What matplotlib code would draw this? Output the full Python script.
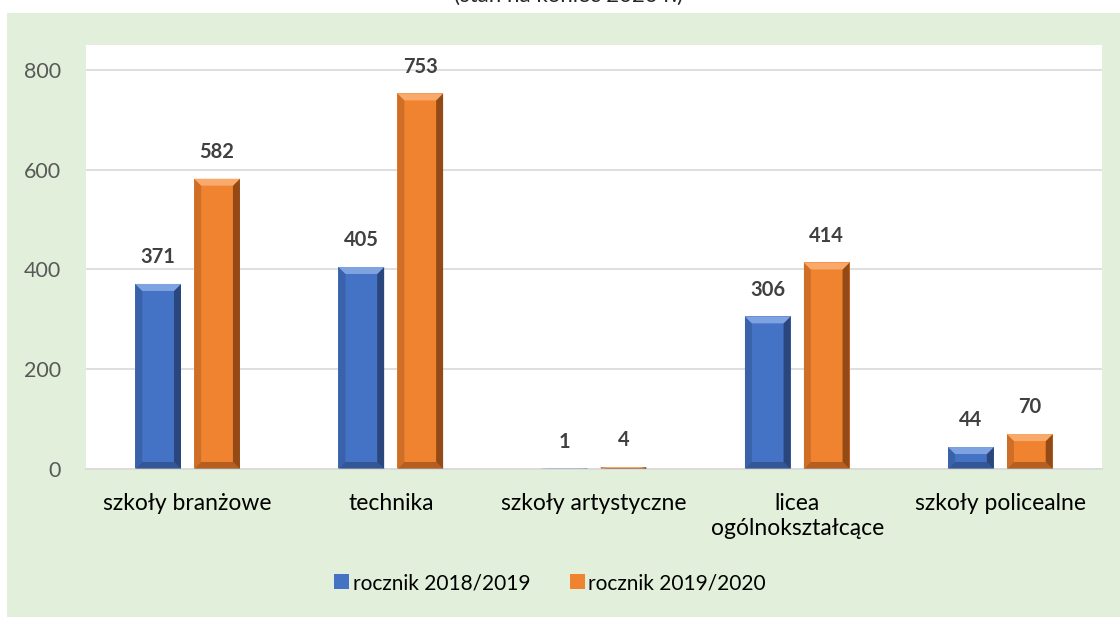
import matplotlib
matplotlib.use("Agg")
import matplotlib.pyplot as plt
from matplotlib.patches import Rectangle, Polygon
import numpy as np

categories = ["szkoły branżowe", "technika", "szkoły artystyczne", "licea\nogólnokształcące", "szkoły policealne"]
series_names = ["rocznik 2018/2019", "rocznik 2019/2020"]
vals_2018 = [371, 405, 1, 306, 44]
vals_2019 = [582, 753, 4, 414, 70]
yticks = [0, 200, 400, 600, 800]

plt.rcParams['font.family'] = ['Lato', 'DejaVu Sans']

fig = plt.figure(figsize=(11.2, 6.17), dpi=100)
fig.patch.set_facecolor("white")
# green panel
fig.patches.append(Rectangle((7/1120, 0), 1 - 7/1120, 1 - 13/617, transform=fig.transFigure,
                             facecolor="#E2EFDA", edgecolor="none", zorder=-10))
fig.text(0.508, 1 - 1.5/617, "(stan na koniec 2020 r.)", ha="center", va="baseline", fontsize=16, color="#262626")

ax = fig.add_axes([86/1120, 1 - 469/617, (1102 - 86)/1120, (469 - 45)/617])
ax.set_facecolor("white")
x = np.arange(len(categories))
w = 0.225
off = 0.145
colors = ["#4472C4", "#F0832F"]
dark = ["#1F3460", "#6E330C"]
light = ["#86A8E4", "#F9AE72"]

def bevel(ax, bars, dk, lt):
    inv = ax.transData.inverted()
    for b in bars:
        x0, y0, bw, bh = b.get_x(), b.get_y(), b.get_width(), b.get_height()
        if bh <= 0:
            continue
        p0 = ax.transData.transform((x0, y0))
        dx = inv.transform((p0[0] + 7, p0[1]))[0] - x0
        dy = inv.transform((p0[0], p0[1] + 7))[1] - y0
        dy = min(dy, bh / 2)
        x1, y1 = x0 + bw, y0 + bh
        ax.add_patch(Polygon([(x1, y0), (x1, y1), (x1 - dx, y1 - dy), (x1 - dx, y0 + dy)],
                             closed=True, facecolor=dk, edgecolor="none", alpha=0.7, zorder=3))
        ax.add_patch(Polygon([(x0, y0), (x0, y1), (x0 + dx, y1 - dy), (x0 + dx, y0 + dy)],
                             closed=True, facecolor=dk, edgecolor="none", alpha=0.25, zorder=3))
        ax.add_patch(Polygon([(x0, y1), (x1, y1), (x1 - dx, y1 - dy), (x0 + dx, y1 - dy)],
                             closed=True, facecolor=lt, edgecolor="none", alpha=0.9, zorder=3))
        ax.add_patch(Polygon([(x0, y0), (x1, y0), (x1 - dx, y0 + dy), (x0 + dx, y0 + dy)],
                             closed=True, facecolor=dk, edgecolor="none", alpha=0.45, zorder=3))

b1 = ax.bar(x - off, vals_2018, w, color=colors[0], zorder=2, label=series_names[0])
b2 = ax.bar(x + off, vals_2019, w, color=colors[1], zorder=2, label=series_names[1])
ax.set_ylim(0, 850)
ax.set_xlim(-0.5, len(categories) - 0.5)
fig.canvas.draw()
bevel(ax, b1, dark[0], light[0])
bevel(ax, b2, dark[1], light[1])

for bars in (b1, b2):
    for b in bars:
        ax.annotate(f"{int(b.get_height())}", (b.get_x() + b.get_width() / 2, b.get_height()),
                    xytext=(0, 12), textcoords="offset points", ha="center", va="bottom",
                    fontsize=14.5, fontweight="bold", color="#404040")

ax.set_yticks(yticks)
ax.set_yticklabels([str(v) for v in yticks], fontsize=15.5, color="#595959")
ax.set_xticks(x)
ax.set_xticklabels(categories, fontsize=16.5, color="#000000", linespacing=1.25)
ax.tick_params(axis="both", length=0)
ax.tick_params(axis="y", pad=18)
ax.tick_params(axis="x", pad=17)
ax.grid(axis="y", color="#D9D9D9", linewidth=1.2, zorder=0)
ax.set_axisbelow(True)
for s in ["top", "right", "left"]:
    ax.spines[s].set_visible(False)
ax.spines["bottom"].set_color("#D9D9D9")
ax.spines["bottom"].set_linewidth(1.2)

leg = fig.legend(handles=[b1, b2], labels=series_names, loc="center", bbox_to_anchor=(0.491, 1 - 583/617),
                 ncol=2, frameon=False, fontsize=15, handlelength=0.75, handleheight=0.75,
                 handletextpad=0.15, columnspacing=1.9)

fig.savefig("out.png", dpi=100, facecolor=fig.get_facecolor())
